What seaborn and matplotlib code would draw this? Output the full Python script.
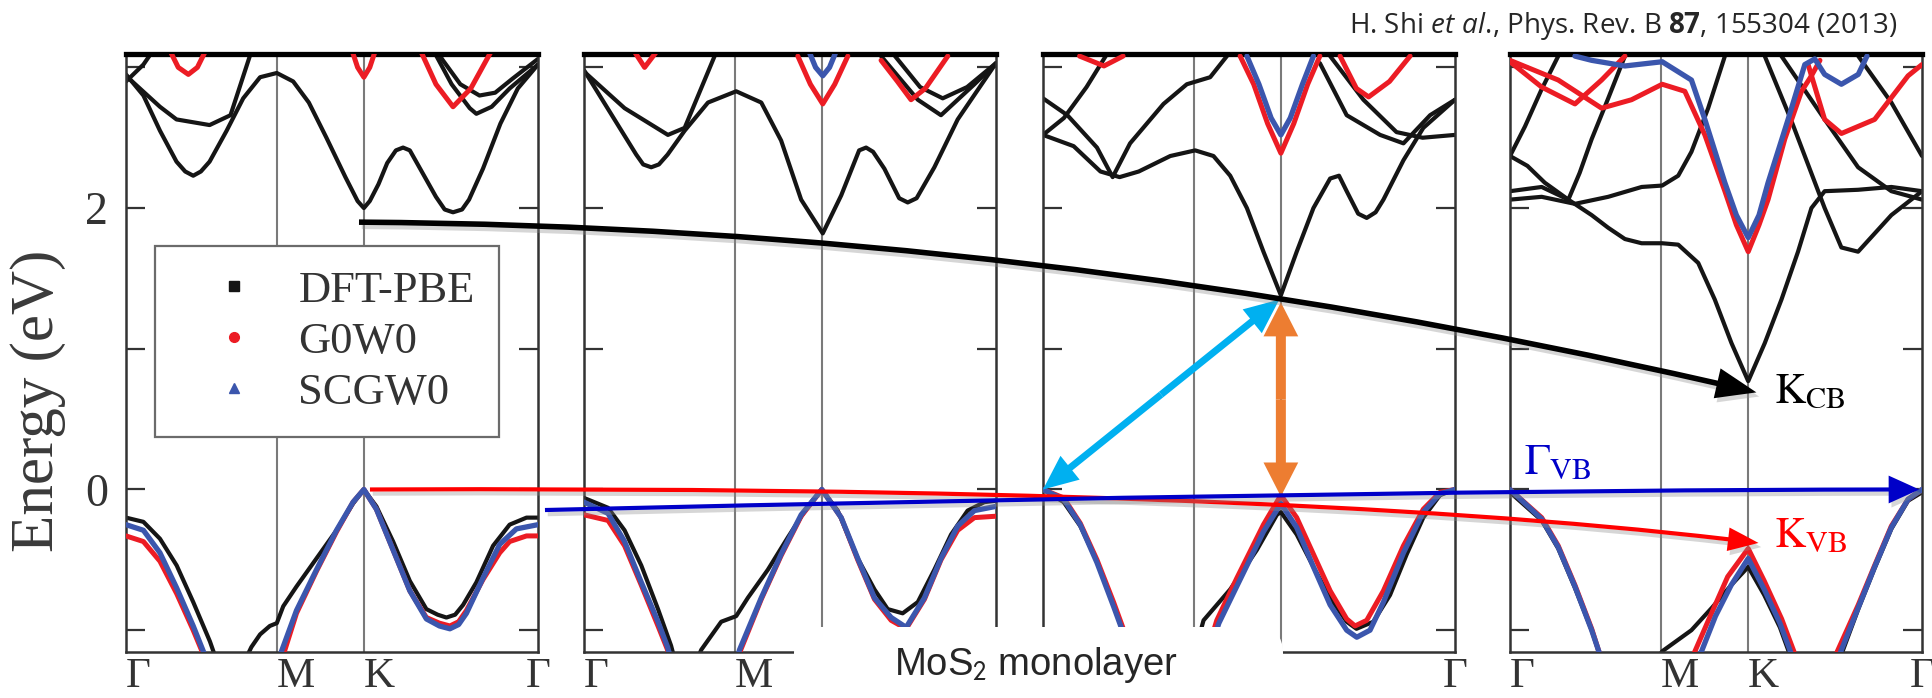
import matplotlib as mpl
mpl.use("Agg")
import matplotlib.pyplot as plt
import matplotlib.patheffects as pe
from matplotlib.lines import Line2D
from matplotlib.patches import FancyArrowPatch, FancyBboxPatch
from matplotlib.path import Path
from matplotlib.transforms import IdentityTransform
import seaborn as sns

# k path G-M-K-G (|GK| = 1), energies in eV
KPTS = [0, 0.866, 1.366, 2.366]
KLABELS = ['Γ', 'M', 'K', 'Γ']
YTICKS = [-1, 0, 1, 2, 3]
LEGEND_LABELS = ['DFT-PBE', 'G0W0', 'SCGW0']

# ---------------- panel 1 ----------------
P1_PBE_VB_K = [0, 0.10, 0.195, 0.291, 0.386, 0.482, 0.53, 0.65, 0.72, 0.77, 0.826, 0.866, 0.903, 0.979, 1.094,
               1.209, 1.304, 1.366, 1.438, 1.534, 1.630, 1.725, 1.79, 1.84, 1.89, 1.936, 2.012, 2.108, 2.203,
               2.30, 2.366]
P1_PBE_VB_E = [-0.20, -0.23, -0.35, -0.54, -0.80, -1.08, -1.25, -1.30, -1.12, -1.03, -0.97, -0.95, -0.83, -0.69,
               -0.49, -0.29, -0.10, 0.0, -0.12, -0.37, -0.65, -0.85, -0.89, -0.91, -0.89, -0.82, -0.66, -0.40,
               -0.25, -0.20, -0.20]
P1_SC_VB_K = [0, 0.10, 0.195, 0.291, 0.386, 0.46, 0.50, 0.85, 0.893, 0.979, 1.094, 1.209, 1.304, 1.366, 1.438,
              1.534, 1.630, 1.725, 1.80, 1.86, 1.91, 1.955, 2.05, 2.146, 2.242, 2.366]
P1_SC_VB_E = [-0.25, -0.29, -0.45, -0.70, -0.97, -1.20, -1.35, -1.35, -1.15, -0.86, -0.57, -0.29, -0.09, 0.0,
              -0.14, -0.43, -0.72, -0.92, -0.97, -0.99, -0.96, -0.88, -0.63, -0.39, -0.28, -0.25]
P1_G0_VB_K = [0, 0.10, 0.195, 0.291, 0.386, 0.46, 0.50, 0.86, 0.91, 0.979, 1.094, 1.209, 1.304, 1.366, 1.438,
              1.534, 1.630, 1.725, 1.80, 1.86, 1.91, 1.955, 2.05, 2.146, 2.203, 2.30, 2.366]
P1_G0_VB_E = [-0.33, -0.37, -0.51, -0.74, -1.00, -1.22, -1.35, -1.35, -1.15, -0.88, -0.58, -0.30, -0.09, 0.0,
              -0.14, -0.43, -0.72, -0.91, -0.95, -0.97, -0.94, -0.86, -0.64, -0.45, -0.37, -0.33, -0.33]
P1_CB1_K = [0, 0.10, 0.195, 0.29, 0.34, 0.386, 0.43, 0.48, 0.578, 0.673, 0.77, 0.866, 0.96, 1.05, 1.151, 1.26,
            1.33, 1.366, 1.40, 1.45, 1.50, 1.55, 1.591, 1.63, 1.68, 1.78, 1.83, 1.878, 1.93, 1.97, 2.05, 2.15,
            2.25, 2.366]
P1_CB1_E = [2.95, 2.80, 2.55, 2.33, 2.26, 2.23, 2.26, 2.33, 2.55, 2.78, 2.93, 2.96, 2.90, 2.75, 2.50, 2.22,
            2.05, 2.00, 2.05, 2.17, 2.32, 2.41, 2.43, 2.41, 2.30, 2.08, 1.99, 1.97, 1.99, 2.06, 2.28, 2.60,
            2.85, 3.02]
P1_CB2_K = [0, 0.195, 0.29, 0.48, 0.60, 0.711, 0.76]
P1_CB2_E = [2.94, 2.72, 2.63, 2.59, 2.66, 3.08, 3.2]
P1_CB3_K = [0, 0.10, 0.20]
P1_CB3_E = [2.90, 3.02, 3.2]
P1_CB4_K = [1.70, 1.783, 1.87, 1.974, 2.012, 2.10, 2.203, 2.366]
P1_CB4_E = [3.2, 3.08, 2.88, 2.71, 2.67, 2.72, 2.85, 3.02]
P1_CB5_K = [1.74, 1.82, 1.92, 2.03, 2.12, 2.22, 2.366]
P1_CB5_E = [3.2, 3.05, 2.88, 2.80, 2.82, 2.92, 3.06]
P1_G0_CB1_K = [0.24, 0.30, 0.358, 0.41, 0.47]
P1_G0_CB1_E = [3.15, 3.0, 2.95, 3.0, 3.15]
P1_G0_CB2_K = [1.29, 1.33, 1.366, 1.40, 1.44]
P1_G0_CB2_E = [3.15, 3.0, 2.93, 3.0, 3.15]
P1_G0_CB3_K = [1.68, 1.78, 1.878, 1.98, 2.10]
P1_G0_CB3_E = [3.15, 2.88, 2.72, 2.85, 3.12]

# ---------------- panel 2 ----------------
P2_PBE_VB_K = [0, 0.138, 0.233, 0.329, 0.425, 0.50, 0.53, 0.62, 0.673, 0.788, 0.874, 0.941, 1.056, 1.171, 1.285,
               1.366, 1.457, 1.572, 1.668, 1.744, 1.830, 1.917, 2.012, 2.108, 2.203, 2.299, 2.366]
P2_PBE_VB_E = [-0.06, -0.13, -0.29, -0.54, -0.85, -1.11, -1.25, -1.30, -1.14, -0.94, -0.90, -0.77, -0.57, -0.34,
               -0.12, 0.0, -0.15, -0.49, -0.71, -0.85, -0.88, -0.80, -0.57, -0.32, -0.15, -0.09, -0.08]
P2_SC_VB_K = [0, 0.138, 0.233, 0.329, 0.425, 0.48, 0.52, 0.86, 0.893, 1.018, 1.132, 1.247, 1.366, 1.477, 1.572,
              1.668, 1.764, 1.85, 1.955, 2.050, 2.146, 2.242, 2.366]
P2_SC_VB_E = [-0.09, -0.17, -0.37, -0.66, -0.94, -1.12, -1.30, -1.30, -1.14, -0.77, -0.46, -0.18, 0.0, -0.20,
              -0.49, -0.77, -0.91, -0.98, -0.77, -0.49, -0.26, -0.15, -0.12]
P2_G0_VB_K = [0, 0.138, 0.233, 0.329, 0.425, 0.48, 0.52, 0.87, 0.90, 1.018, 1.132, 1.247, 1.366, 1.477, 1.572,
              1.668, 1.764, 1.85, 1.955, 2.050, 2.146, 2.242, 2.366]
P2_G0_VB_E = [-0.18, -0.22, -0.40, -0.68, -0.97, -1.14, -1.30, -1.30, -1.14, -0.78, -0.47, -0.19, 0.0, -0.20,
              -0.50, -0.78, -0.93, -0.99, -0.78, -0.50, -0.29, -0.20, -0.19]
P2_CB1_K = [0, 0.14, 0.30, 0.34, 0.386, 0.43, 0.48, 0.578, 0.712, 0.874, 1.018, 1.132, 1.247, 1.371, 1.477,
            1.58, 1.62, 1.66, 1.725, 1.81, 1.859, 1.91, 2.012, 2.146, 2.366]
P2_CB1_E = [2.98, 2.70, 2.38, 2.31, 2.29, 2.31, 2.38, 2.55, 2.75, 2.83, 2.75, 2.48, 2.06, 1.82, 2.09, 2.41,
            2.43, 2.40, 2.28, 2.07, 2.04, 2.07, 2.29, 2.63, 3.03]
P2_CB2_K = [0, 0.233, 0.482, 0.578, 0.75, 0.80]
P2_CB2_E = [2.97, 2.71, 2.52, 2.57, 3.08, 3.2]
P2_CB3_K = [1.706, 1.917, 2.05, 2.242, 2.366]
P2_CB3_E = [3.08, 2.77, 2.66, 2.88, 3.03]
P2_CB4_K = [1.76, 1.93, 2.06, 2.20, 2.366]
P2_CB4_E = [3.12, 2.86, 2.78, 2.86, 3.03]
P2_G0_CB1_K = [1.228, 1.30, 1.371, 1.44, 1.515]
P2_G0_CB1_E = [3.08, 2.88, 2.74, 2.88, 3.08]
P2_G0_CB2_K = [0.27, 0.348, 0.44]
P2_G0_CB2_E = [3.15, 3.0, 3.15]
P2_G0_CB3_K = [1.706, 1.80, 1.878, 1.96, 2.089]
P2_G0_CB3_E = [3.05, 2.90, 2.77, 2.85, 3.08]
P2_SC_CB1_K = [1.28, 1.33, 1.371, 1.41, 1.46]
P2_SC_CB1_E = [3.15, 3.0, 2.94, 3.0, 3.15]

# ---------------- panel 3 ----------------
P3_PBE_VB_K = [0, 0.119, 0.214, 0.310, 0.405, 0.47, 0.52, 0.85, 0.922, 1.075, 1.228, 1.343, 1.366, 1.457, 1.553,
               1.649, 1.744, 1.80, 1.897, 1.993, 2.089, 2.184, 2.280, 2.366]
P3_PBE_VB_E = [0.0, -0.09, -0.26, -0.51, -0.82, -1.05, -1.25, -1.25, -0.93, -0.71, -0.43, -0.18, -0.16, -0.32,
               -0.55, -0.77, -0.94, -0.99, -0.94, -0.75, -0.46, -0.20, -0.04, 0.0]
P3_G0_VB_K = [0, 0.119, 0.214, 0.310, 0.405, 0.47, 0.52, 0.92, 0.998, 1.113, 1.266, 1.366, 1.457, 1.553, 1.649,
              1.744, 1.792, 1.859, 1.955, 2.070, 2.184, 2.280, 2.366]
P3_G0_VB_E = [0.0, -0.06, -0.24, -0.50, -0.80, -1.02, -1.25, -1.25, -0.93, -0.63, -0.25, -0.04, -0.20, -0.46,
              -0.72, -0.92, -0.97, -0.93, -0.72, -0.40, -0.14, -0.02, 0.0]
P3_SC_VB_K = [0, 0.119, 0.214, 0.310, 0.405, 0.47, 0.52, 0.93, 1.01, 1.12, 1.266, 1.366, 1.457, 1.553, 1.649,
              1.744, 1.802, 1.878, 1.955, 2.070, 2.184, 2.280, 2.366]
P3_SC_VB_E = [0.0, -0.07, -0.25, -0.52, -0.83, -1.05, -1.25, -1.25, -0.95, -0.67, -0.30, -0.10, -0.27, -0.55,
              -0.82, -1.00, -1.05, -1.00, -0.80, -0.45, -0.16, -0.03, 0.0]
P3_CB1_K = [0, 0.176, 0.33, 0.44, 0.55, 0.731, 0.874, 0.979, 1.075, 1.171, 1.266, 1.366, 1.457, 1.553, 1.649,
            1.70, 1.744, 1.81, 1.859, 1.91, 1.955, 2.070, 2.184, 2.366]
P3_CB1_E = [2.52, 2.44, 2.26, 2.22, 2.26, 2.37, 2.41, 2.37, 2.23, 2.00, 1.69, 1.38, 1.69, 2.00, 2.21, 2.23, 2.12,
            1.96, 1.93, 1.97, 2.06, 2.34, 2.57, 2.77]
P3_CB2_K = [0, 0.14, 0.31, 0.40, 0.50, 0.692, 0.826, 0.96, 1.056, 1.10]
P3_CB2_E = [2.78, 2.66, 2.43, 2.22, 2.46, 2.74, 2.88, 2.93, 3.08, 3.2]
P3_CB3_K = [0, 0.12, 0.25, 0.36, 0.40]
P3_CB3_E = [2.52, 2.64, 2.86, 3.08, 3.2]
P3_CB4_K = [1.59, 1.744, 1.936, 2.070, 2.223, 2.366]
P3_CB4_E = [3.03, 2.66, 2.52, 2.46, 2.66, 2.77]
P3_CB5_K = [1.649, 1.84, 2.03, 2.18, 2.366]
P3_CB5_E = [3.08, 2.77, 2.54, 2.50, 2.52]
P3_G0_CB1_K = [1.132, 1.21, 1.29, 1.366, 1.44, 1.52, 1.59]
P3_G0_CB1_E = [3.08, 2.88, 2.60, 2.39, 2.60, 2.88, 3.08]
P3_G0_CB2_K = [0.21, 0.35, 0.46]
P3_G0_CB2_E = [3.08, 3.01, 3.08]
P3_G0_CB3_K = [1.706, 1.80, 1.87, 1.99, 2.108]
P3_G0_CB3_E = [3.08, 2.85, 2.79, 2.90, 3.08]
P3_SC_CB1_K = [1.171, 1.24, 1.31, 1.366, 1.42, 1.49, 1.553]
P3_SC_CB1_E = [3.08, 2.88, 2.64, 2.52, 2.64, 2.88, 3.08]

# ---------------- panel 4 ----------------
P4_PBE_VB_K = [0, 0.182, 0.277, 0.373, 0.469, 0.55, 0.80, 0.874, 1.042, 1.16, 1.27, 1.368, 1.46, 1.55, 1.60, 1.63,
               1.86, 1.91, 2.0, 2.094, 2.19, 2.286, 2.366]
P4_PBE_VB_E = [-0.02, -0.22, -0.42, -0.70, -1.00, -1.30, -1.30, -1.15, -1.00, -0.84, -0.68, -0.55, -0.75, -0.98,
               -1.15, -1.30, -1.30, -1.15, -0.85, -0.56, -0.28, -0.08, -0.02]
P4_G0_VB_K = [0, 0.182, 0.277, 0.373, 0.469, 0.51, 0.55, 1.0, 1.062, 1.15, 1.25, 1.368, 1.46, 1.56, 1.63, 1.66,
              1.84, 1.88, 2.0, 2.094, 2.19, 2.286, 2.366]
P4_G0_VB_E = [0.0, -0.20, -0.40, -0.68, -0.99, -1.15, -1.30, -1.35, -1.15, -0.90, -0.62, -0.42, -0.65, -0.92,
              -1.15, -1.30, -1.30, -1.15, -0.82, -0.54, -0.26, -0.07, 0.0]
P4_SC_VB_K = [0, 0.182, 0.277, 0.373, 0.469, 0.51, 0.55, 1.02, 1.10, 1.18, 1.27, 1.368, 1.46, 1.55, 1.61, 1.64,
              1.86, 1.90, 2.0, 2.094, 2.19, 2.286, 2.366]
P4_SC_VB_E = [0.0, -0.21, -0.41, -0.69, -1.00, -1.15, -1.30, -1.30, -1.15, -0.90, -0.68, -0.49, -0.71, -0.95,
              -1.15, -1.30, -1.30, -1.15, -0.84, -0.55, -0.27, -0.07, 0.0]
P4_CB1_K = [0, 0.182, 0.335, 0.469, 0.564, 0.66, 0.756, 0.874, 0.966, 1.081, 1.176, 1.272, 1.368, 1.463, 1.559,
            1.654, 1.731, 1.807, 1.999, 2.19, 2.366]
P4_CB1_E = [2.12, 2.15, 2.06, 1.95, 1.86, 1.78, 1.75, 1.75, 1.74, 1.61, 1.35, 1.04, 0.77, 1.04, 1.35, 1.69, 2.0,
            2.12, 2.13, 2.15, 2.12]
P4_CB2_K = [0, 0.182, 0.373, 0.564, 0.756, 0.874, 0.966, 1.042, 1.138, 1.234, 1.27]
P4_CB2_E = [2.06, 2.08, 2.03, 2.08, 2.15, 2.16, 2.23, 2.40, 2.71, 3.08, 3.2]
P4_CB3_K = [0, 0.086, 0.18, 0.277, 0.31]
P4_CB3_E = [2.37, 2.58, 2.84, 3.08, 3.2]
P4_CB4_K = [0, 0.10, 0.20, 0.335, 0.40, 0.469, 0.564, 0.66, 0.70]
P4_CB4_E = [2.37, 2.30, 2.18, 2.06, 2.25, 2.49, 2.78, 3.08, 3.2]
P4_CB5_K = [1.463, 1.616, 1.807, 1.903, 1.999, 2.19, 2.366]
P4_CB5_E = [3.08, 2.62, 2.00, 1.72, 1.69, 1.95, 2.12]
P4_CB6_K = [1.559, 1.807, 1.999, 2.19, 2.366]
P4_CB6_E = [3.08, 2.63, 2.29, 2.12, 2.06]
P4_CB7_K = [2.0, 2.19, 2.366]
P4_CB7_E = [3.08, 2.75, 2.37]
P4_G0_CB1_K = [0, 0.277, 0.526, 0.698, 0.874, 1.004, 1.119, 1.234, 1.30, 1.368, 1.43, 1.482, 1.578, 1.674, 1.731,
               1.78]
P4_G0_CB1_E = [3.05, 2.91, 2.71, 2.77, 2.88, 2.83, 2.52, 2.12, 1.88, 1.69, 1.88, 2.06, 2.49, 2.83, 2.94, 3.05]
P4_G0_CB2_K = [0, 0.182, 0.373, 0.526, 0.66]
P4_G0_CB2_E = [3.04, 2.86, 2.74, 2.91, 3.08]
P4_G0_CB3_K = [1.712, 1.807, 1.903, 2.094, 2.286, 2.366]
P4_G0_CB3_E = [3.02, 2.63, 2.53, 2.63, 2.94, 3.02]
P4_SC_CB1_K = [0.373, 0.469, 0.66, 0.874, 1.042, 1.119, 1.234, 1.30, 1.368, 1.43, 1.482, 1.597, 1.693, 1.75,
               1.807, 1.903, 2.0, 2.05]
P4_SC_CB1_E = [3.08, 3.05, 3.01, 3.04, 2.91, 2.63, 2.18, 1.95, 1.79, 1.95, 2.18, 2.63, 3.02, 3.06, 2.95, 2.88,
               2.95, 3.08]

PANELS = [
    {'pbe': [(P1_PBE_VB_K, P1_PBE_VB_E), (P1_CB1_K, P1_CB1_E), (P1_CB2_K, P1_CB2_E), (P1_CB3_K, P1_CB3_E),
             (P1_CB4_K, P1_CB4_E), (P1_CB5_K, P1_CB5_E)],
     'g0w0': [(P1_G0_VB_K, P1_G0_VB_E), (P1_G0_CB1_K, P1_G0_CB1_E), (P1_G0_CB2_K, P1_G0_CB2_E),
              (P1_G0_CB3_K, P1_G0_CB3_E)],
     'scgw0': [(P1_SC_VB_K, P1_SC_VB_E)]},
    {'pbe': [(P2_PBE_VB_K, P2_PBE_VB_E), (P2_CB1_K, P2_CB1_E), (P2_CB2_K, P2_CB2_E), (P2_CB3_K, P2_CB3_E),
             (P2_CB4_K, P2_CB4_E)],
     'g0w0': [(P2_G0_VB_K, P2_G0_VB_E), (P2_G0_CB1_K, P2_G0_CB1_E), (P2_G0_CB2_K, P2_G0_CB2_E),
              (P2_G0_CB3_K, P2_G0_CB3_E)],
     'scgw0': [(P2_SC_VB_K, P2_SC_VB_E), (P2_SC_CB1_K, P2_SC_CB1_E)]},
    {'pbe': [(P3_PBE_VB_K, P3_PBE_VB_E), (P3_CB1_K, P3_CB1_E), (P3_CB2_K, P3_CB2_E), (P3_CB3_K, P3_CB3_E),
             (P3_CB4_K, P3_CB4_E), (P3_CB5_K, P3_CB5_E)],
     'g0w0': [(P3_G0_VB_K, P3_G0_VB_E), (P3_G0_CB1_K, P3_G0_CB1_E), (P3_G0_CB2_K, P3_G0_CB2_E),
              (P3_G0_CB3_K, P3_G0_CB3_E)],
     'scgw0': [(P3_SC_VB_K, P3_SC_VB_E), (P3_SC_CB1_K, P3_SC_CB1_E)]},
    {'pbe': [(P4_PBE_VB_K, P4_PBE_VB_E), (P4_CB1_K, P4_CB1_E), (P4_CB2_K, P4_CB2_E), (P4_CB3_K, P4_CB3_E),
             (P4_CB4_K, P4_CB4_E), (P4_CB5_K, P4_CB5_E), (P4_CB6_K, P4_CB6_E), (P4_CB7_K, P4_CB7_E)],
     'g0w0': [(P4_G0_VB_K, P4_G0_VB_E), (P4_G0_CB1_K, P4_G0_CB1_E), (P4_G0_CB2_K, P4_G0_CB2_E),
              (P4_G0_CB3_K, P4_G0_CB3_E)],
     'scgw0': [(P4_SC_VB_K, P4_SC_VB_E), (P4_SC_CB1_K, P4_SC_CB1_E)]},
]
# x labels hidden under the white caption box in the original are left blank
PANEL_XLABELS = [KLABELS, ['Γ', 'M', '', ''], ['', '', '', 'Γ'], KLABELS]

C_PBE = '#151515'
C_G0W0 = '#ec1c24'
C_SC = '#3b56ad'
STYLE = {'pbe': (C_PBE, 3.0, 2), 'g0w0': (C_G0W0, 3.6, 3), 'scgw0': (C_SC, 3.8, 4)}
GRAY = '#333333'

sns.set_style("white")
plt.rcParams['font.family'] = ['Liberation Serif', 'DejaVu Serif']
plt.rcParams['mathtext.fontset'] = 'custom'
plt.rcParams['mathtext.rm'] = 'Open Sans'
plt.rcParams['mathtext.it'] = 'Open Sans:italic'
plt.rcParams['mathtext.bf'] = 'Open Sans:bold'
plt.rcParams['lines.solid_joinstyle'] = 'round'

W, H = 1932, 698
fig = plt.figure(figsize=(W / 100, H / 100), dpi=100)

axes = []
for left in [126, 584, 1043, 1510]:
    ax = fig.add_axes([left / W, (H - 652) / H, 412 / W, 598 / H])
    axes.append(ax)

for i, (ax, bands) in enumerate(zip(axes, PANELS)):
    for key in ['pbe', 'g0w0', 'scgw0']:
        color, lw, z = STYLE[key]
        for k, e in bands[key]:
            sns.lineplot(x=k, y=e, ax=ax, color=color, lw=lw, sort=False, estimator=None,
                         zorder=z, legend=False)
    ax.set_xlim(KPTS[0], KPTS[-1])
    ax.set_ylim(-1.155, 3.095)
    for kp in KPTS[1:3]:
        ax.axvline(kp, color='#7a7a7a', lw=1.5, zorder=1)
    for side in ['left', 'right', 'bottom']:
        ax.spines[side].set_color(GRAY)
        ax.spines[side].set_linewidth(1.8)
    ax.spines['top'].set_color('black')
    ax.spines['top'].set_linewidth(3.8)
    ax.set_xlabel('')
    ax.set_ylabel('')
    ax.set_yticks(YTICKS)
    if i == 0:
        ax.set_yticklabels(['', '0', '', '2', ''])
    else:
        ax.set_yticklabels([])
    ax.tick_params(axis='y', direction='in', length=14, width=1.6, color=GRAY, left=True, right=True,
                   labelsize=33, pad=13, labelcolor=GRAY)
    ax.set_xticks(KPTS)
    ax.set_xticklabels(PANEL_XLABELS[i])
    ax.tick_params(axis='x', length=0, labelsize=31, pad=4, labelcolor=GRAY)
    labs = ax.get_xticklabels()
    for lab in labs[:3]:
        lab.set_ha('left')
    labs[3].set_ha('center')

handles = [Line2D([], [], ls='none', marker='s', ms=7, color=C_PBE),
           Line2D([], [], ls='none', marker='o', ms=7, color=C_G0W0),
           Line2D([], [], ls='none', marker='^', ms=7, color=C_SC)]
leg = axes[0].legend(handles, LEGEND_LABELS, loc='upper left', bbox_to_anchor=(0.070, 0.679),
                     borderaxespad=0, fontsize=32, fancybox=False, framealpha=1, edgecolor='#6b6b6b',
                     borderpad=0.55, handlelength=2.45, handletextpad=0.23, labelspacing=0.25)
leg.get_frame().set_linewidth(1.6)
for t in leg.get_texts():
    t.set_color(GRAY)

fig.text(38 / W, 1 - 401 / H, 'Energy (eV)', rotation=90, ha='center', va='center', fontsize=44,
         color='#3a3a3a')


# annotation arrows running across the panels
def to_fig(ax, xy):
    return fig.transFigure.inverted().transform(ax.transData.transform(xy))


def bent_arrow(a, c, b, color, tail, head_w, head_l):
    verts = [to_fig(*a), to_fig(*c), to_fig(*b)]
    path = Path(verts, [Path.MOVETO, Path.CURVE3, Path.CURVE3])
    style = f"simple,tail_width={tail},head_width={head_w},head_length={head_l}"
    arr = FancyArrowPatch(path=path, arrowstyle=style, mutation_scale=10, fc=color, ec='none', lw=0,
                          transform=fig.transFigure, zorder=3)
    arr.set_path_effects([pe.SimplePatchShadow(offset=(2, -3), shadow_rgbFace='0.55', alpha=0.35), pe.Normal()])
    fig.add_artist(arr)


ax1, ax2, ax3, ax4 = axes
bent_arrow((ax1, (1.338, 1.90)), (ax3, (0.03, 1.87)), (ax4, (1.415, 0.69)), 'black', 0.40, 2.2, 2.9)
bent_arrow((ax1, (1.401, 0.0)), (ax3, (1.476, 0.03)), (ax4, (1.427, -0.38)), '#ff0000', 0.30, 1.7, 2.2)
bent_arrow((ax1, (2.406, -0.146)), (ax3, (2.05, 0.0)), (ax4, (2.35, 0.0)), '#0000c8', 0.30, 2.0, 2.2)


def double_arrow(ax, p, q, color, tail, head_w, head_l):
    mid = ((p[0] + q[0]) / 2, (p[1] + q[1]) / 2)
    for end in (p, q):
        arr = FancyArrowPatch(mid, end, arrowstyle=f"simple,tail_width={tail},head_width={head_w},"
                                                   f"head_length={head_l}",
                              mutation_scale=10, fc=color, ec='none', lw=0, shrinkA=0, shrinkB=0,
                              zorder=6, clip_on=False)
        ax.add_patch(arr)


double_arrow(ax3, (1.357, 1.35), (0.0, 0.0), '#00b0f0', 0.5, 2.2, 2.5)
double_arrow(ax3, (1.366, 1.33), (1.366, -0.05), '#ed7d31', 0.72, 2.5, 2.45)

ax4.text(0.08, 0.11, r'$\Gamma_{\mathrm{VB}}$', color='#0000c8', fontsize=31, math_fontfamily='stix',
         ha='left', va='baseline', zorder=7)
ax4.text(1.518, 0.61, r'$\mathrm{K}_{\mathrm{CB}}$', color='black', fontsize=31, math_fontfamily='stix',
         ha='left', va='baseline', zorder=7)
ax4.text(1.518, -0.41, r'$\mathrm{K}_{\mathrm{VB}}$', color='#ff0000', fontsize=31, math_fontfamily='stix',
         ha='left', va='baseline', zorder=7)

# white caption box at the bottom
box = FancyBboxPatch((794, -30), 489, 101, boxstyle='round,pad=0,rounding_size=26',
                     transform=IdentityTransform(), fc='white', ec='none', zorder=4)
fig.add_artist(box)
fig.text(1036 / W, 1 - 675 / H, 'MoS$_2$ monolayer', family='Liberation Sans', fontsize=27.5, ha='center',
         va='baseline', math_fontfamily='stixsans', zorder=5)
fig.text(1897 / W, 1 - 33 / H, r'H. Shi $\mathit{et\ al.}\!$, Phys. Rev. B $\mathbf{87}$, 155304 (2013)',
         family='Open Sans', fontsize=20, ha='right', va='baseline', math_fontfamily='custom', zorder=5)

fig.savefig('out.png', dpi=100, facecolor='white')
